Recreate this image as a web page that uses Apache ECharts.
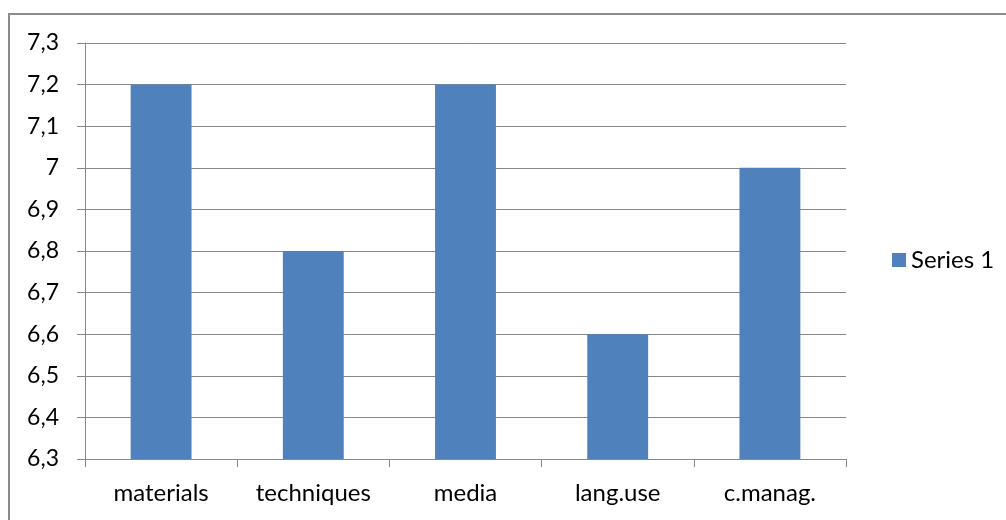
<!DOCTYPE html>
<html>
<head>
<meta charset="utf-8">
<script src="https://cdn.jsdelivr.net/npm/echarts@6/dist/echarts.min.js"></script>
<style>
  html, body { margin: 0; padding: 0; background: #fff; }
  #chart { width: 1006px; height: 520px; }
</style>
</head>
<body>
<div id="chart"></div>
<script>
const categories = ['materials', 'techniques', 'media', 'lang.use', 'c.manag.']
const seriesName = 'Series 1'
const values = [7.2, 6.8, 7.2, 6.6, 7.0]
const yMin = 6.3
const yMax = 7.3
const yStep = 0.1

const chart = echarts.init(document.getElementById('chart'))

const font = 'Lato, "Open Sans", sans-serif'

chart.setOption({
  animation: false,
  graphic: [
    {
      type: 'polyline',
      shape: { points: [[9, 530], [9, 14], [1010, 14]] },
      style: { stroke: '#8c8c8c', lineWidth: 2, fill: null }
    }
  ],
  grid: { left: 85, right: 160, top: 43, bottom: 61 },
  legend: {
    left: 887,
    top: 'middle',
    itemWidth: 14,
    itemHeight: 14,
    itemGap: 6,
    icon: 'rect',
    textStyle: { fontFamily: font, fontSize: 24, color: '#000' },
    data: [seriesName]
  },
  xAxis: {
    type: 'category',
    data: categories,
    axisLine: { lineStyle: { color: '#888', width: 1 } },
    axisTick: { show: true, length: 8, lineStyle: { color: '#888' } },
    axisLabel: { fontFamily: font, fontSize: 24, color: '#000', margin: 22 }
  },
  yAxis: {
    type: 'value',
    min: yMin,
    max: yMax,
    interval: yStep,
    axisLine: { show: true, lineStyle: { color: '#888', width: 1 } },
    axisTick: { show: true, length: 8, lineStyle: { color: '#888' } },
    splitLine: { lineStyle: { color: '#888', width: 1 } },
    axisLabel: {
      fontFamily: font,
      fontSize: 23,
      color: '#000',
      margin: 26,
      formatter: v => String(Number(v.toFixed(1))).replace('.', ',')
    }
  },
  series: [
    {
      name: seriesName,
      type: 'bar',
      data: values,
      barWidth: '40%',
      itemStyle: { color: '#4F81BD' }
    }
  ]
})

window.addEventListener('resize', () => chart.resize())
</script>
</body>
</html>
